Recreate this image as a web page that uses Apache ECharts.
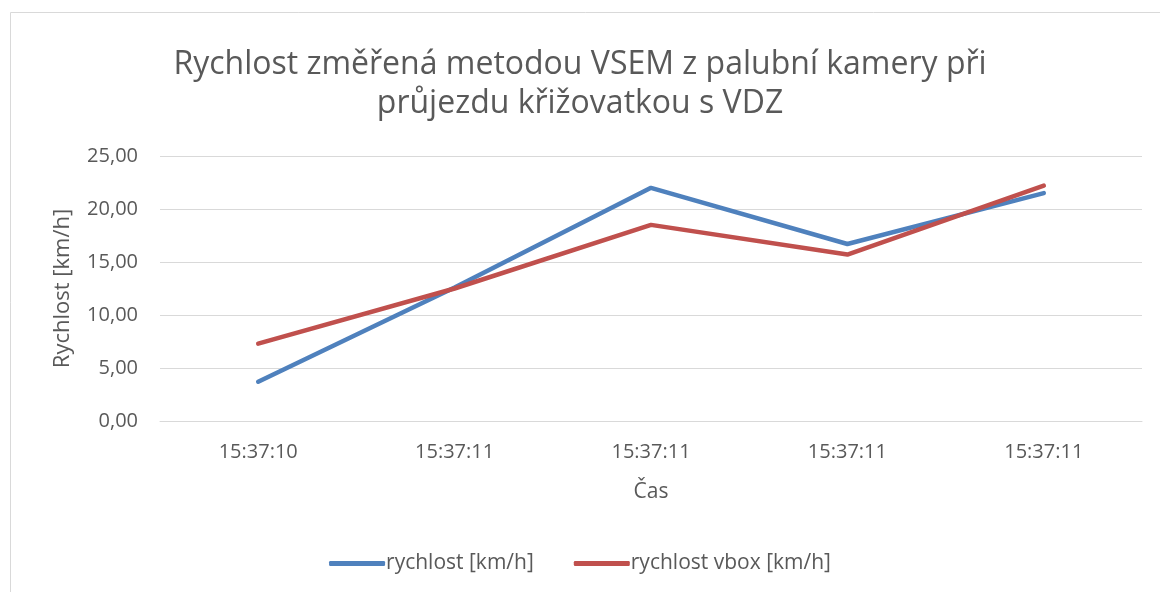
<!DOCTYPE html>
<html><head><meta charset="utf-8">
<script src="https://cdn.jsdelivr.net/npm/echarts@6/dist/echarts.min.js"></script>
<style>html,body{margin:0;padding:0;background:#fff}#c{width:1160px;height:592px}</style>
</head><body><div id="c"></div>
<script>
const categories = ['15:37:10','15:37:11','15:37:11','15:37:11','15:37:11'];
const rychlost = [3.7, 12.6, 22.0, 16.7, 21.5];
const rychlostVbox = [7.3, 12.5, 18.5, 15.7, 22.2];
const seriesNames = ['rychlost [km/h]', 'rychlost vbox [km/h]'];
const titleText = 'Rychlost změřená metodou VSEM z palubní kamery při\nprůjezdu křižovatkou s VDZ';
const font = 'Open Sans';
const chart = echarts.init(document.getElementById('c'));
chart.setOption({
  animation: false,
  graphic: [{type:'rect', shape:{x:10.5,y:12.5,width:1160,height:600}, style:{fill:'none', stroke:'#d9d9d9', lineWidth:1}, silent:true}],
  title: {text: titleText, left: 'center', top: 40, textStyle:{fontFamily:font, fontSize:32, fontWeight:'normal', color:'#595959', lineHeight:39}},
  legend: {bottom: 13, left:'center', itemWidth: 56, itemHeight: 5, itemGap: 40, icon:'roundRect',
    textStyle:{fontFamily:font, fontSize:21, color:'#595959', padding:[0,0,0,-4]}, data: seriesNames},
  grid: {left: 160, right: 18, top: 156, bottom: 171},
  xAxis: {type:'category', data: categories, boundaryGap: true,
    name: 'Čas', nameLocation:'middle', nameGap: 61, nameTextStyle:{fontFamily:font, fontSize:21, color:'#595959'},
    axisLine:{lineStyle:{color:'#d9d9d9'}}, axisTick:{show:false},
    axisLabel:{fontFamily:font, fontSize:20, color:'#595959', margin:21}},
  yAxis: {type:'value', min:0, max:25, interval:5,
    name:'Rychlost [km/h]', nameLocation:'middle', nameGap: 86, nameTextStyle:{fontFamily:font, fontSize:22, color:'#595959'},
    axisLine:{show:false}, axisTick:{show:false},
    splitLine:{lineStyle:{color:'#d9d9d9', width:1}},
    axisLabel:{fontFamily:font, fontSize:20, color:'#595959', margin:22, formatter: v => v.toFixed(2).replace('.', ',')}},
  series: [
    {name: seriesNames[0], type:'line', data: rychlost, symbol:'none', lineStyle:{color:'#4f81bd', width:4.5, cap:'round'}, itemStyle:{color:'#4f81bd'}},
    {name: seriesNames[1], type:'line', data: rychlostVbox, symbol:'none', lineStyle:{color:'#c0504d', width:4.5, cap:'round'}, itemStyle:{color:'#c0504d'}}
  ]
});
</script></body></html>
